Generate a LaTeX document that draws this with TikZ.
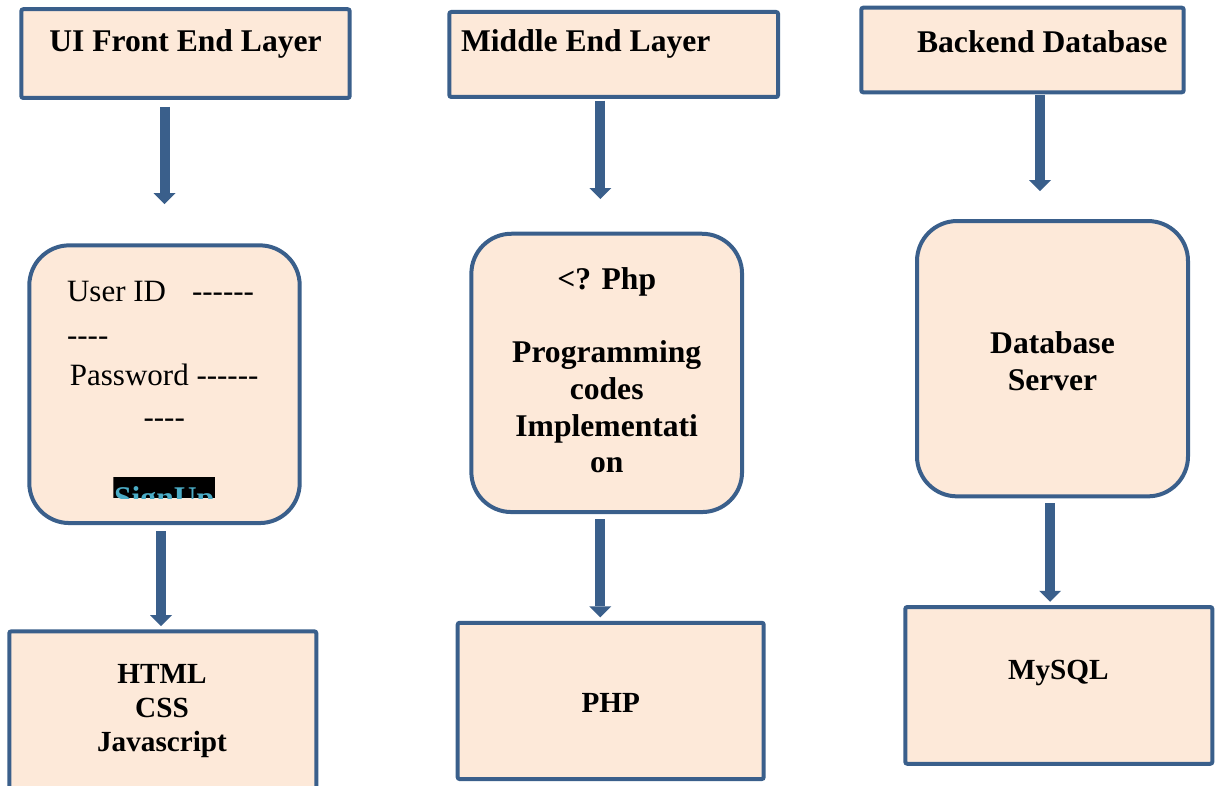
\documentclass[tikz,border=0pt]{standalone}
\usepackage{fontspec}
\setmainfont{Liberation Serif}[Ligatures=TeXOff]
\usetikzlibrary{arrows.meta,calc}
\definecolor{boxfill}{HTML}{FDE9D9}
\definecolor{boxline}{HTML}{3A5F8B}
\definecolor{signup}{HTML}{4BACC6}
\newcommand\bigbf{\fontsize{15.8}{18.35}\selectfont\bfseries}
\newcommand\smallbf{\fontsize{14.6}{17.1}\selectfont\bfseries}
\newcommand\regtxt{\fontsize{15.5}{20}\selectfont}
\tikzset{
  titlebox/.style={draw=boxline, fill=boxfill, line width=2pt, rounded corners=1pt, inner sep=0pt},
  roundbox/.style={draw=boxline, fill=boxfill, line width=2pt, rounded corners=20pt, inner sep=0pt},
  techbox/.style={draw=boxline, fill=boxfill, line width=2pt, rounded corners=1pt, inner sep=0pt},
  arr/.style={draw=boxline, line width=5pt, -{Triangle[width=11pt,length=5.5pt,line width=0pt]}},
  lbl/.style={inner sep=0pt, anchor=base, align=center},
}
\begin{document}
\begin{tikzpicture}[x=0.5pt,y=-0.5pt]
\useasboundingbox (0,0) rectangle (1215,786);
\begin{scope}
\clip (0,0) rectangle (1215,786);
% boxes
\node[titlebox, minimum width=164.2pt, minimum height=44.35pt] (t1) at (185.5,53.6) {};
\node[titlebox, minimum width=164.35pt, minimum height=42.5pt] (t2) at (613.7,54.5) {};
\node[titlebox, minimum width=161.2pt, minimum height=42.3pt] (t3) at (1022.5,50) {};
\node[roundbox, minimum width=135.2pt, minimum height=138.85pt] (r1) at (164.5,384.2) {};
\node[roundbox, minimum width=135.35pt, minimum height=139.15pt] (r2) at (606.7,372.9) {};
\node[roundbox, minimum width=135.5pt, minimum height=137.65pt] (r3) at (1052.5,358.7) {};
\node[techbox, minimum width=153.5pt, minimum height=84.35pt] (b1) at (162.8,715.7) {};
\node[techbox, minimum width=153pt, minimum height=78.15pt] (b2) at (610.7,700.9) {};
\node[techbox, minimum width=153.5pt, minimum height=78.35pt] (b3) at (1058.8,685.4) {};
\end{scope}
% arrows
\draw[arr] ($(t1.south -| r1.north)+(0,-3.5pt)$) -- ($(r1.north)+(0,19.65pt)$);
\draw[arr] ($(r1.south -| b1.north)+(-0.9pt,-3pt)$) -- ($(b1.north)+(-0.9pt,1.65pt)$);
\draw[arr] ($(t2.south -| r2.north)+(-3.2pt,-0.85pt)$) -- ($(r2.north)+(-3.2pt,16.35pt)$);
\draw[arr] ($(r2.south)+(-3.2pt,-2.65pt)$) -- ($(b2.north -| r2.south)+(-3.2pt,1.7pt)$);
\draw[arr] ($(t3.south -| r3.north)+(-6.25pt,-0.35pt)$) -- ($(r3.north)+(-6.25pt,14pt)$);
\draw[arr] ($(r3.south)+(-1.25pt,-2.5pt)$) -- ($(b3.north -| r3.south)+(-1.25pt,1.65pt)$);
% titles
\node[lbl, font=\bigbf] (l1) at (185.5,52) {UI Front End Layer};
\node[lbl, font=\bigbf, anchor=base west] (l2) at (460.7,51.7) {Middle End Layer};
\node[lbl, font=\bigbf, anchor=base west] (l3) at (916.7,52.3) {Backend Database};
% login form
\node[lbl, font=\regtxt, anchor=base west] (u1) at (66.7,301.7) {User ID\hspace*{13pt}------};
\node[lbl, font=\regtxt, anchor=base west] (u2) at (66.7,345) {----};
\node[lbl, font=\regtxt] (p1) at (164.2,385) {Password ------};
\node[lbl, font=\regtxt] (p2) at (164.2,427.5) {----};
\begin{scope}
\clip (113.3,477.3) rectangle (215,498.3);
\fill[black] (113.3,477.3) rectangle (215,498.3);
\node[lbl, font=\bigbf, text=signup] (su) at (164.2,508) {SignUp};
\end{scope}
% middle
\node[lbl, font=\bigbf] (m1) at (606.7,472.7) {<? Php\\ \\Programming\\codes\\Implementati\\on};
\node[lbl, font=\bigbf] (d1) at (1052.5,390) {Database\\Server};
% bottom
\node[lbl, font=\smallbf] (h1) at (162,751.7) {HTML\\CSS\\Javascript};
\node[lbl, font=\smallbf] (h2) at (610.8,712) {PHP};
\node[lbl, font=\smallbf] (h3) at (1058.3,679) {MySQL};
\end{tikzpicture}
\end{document}
